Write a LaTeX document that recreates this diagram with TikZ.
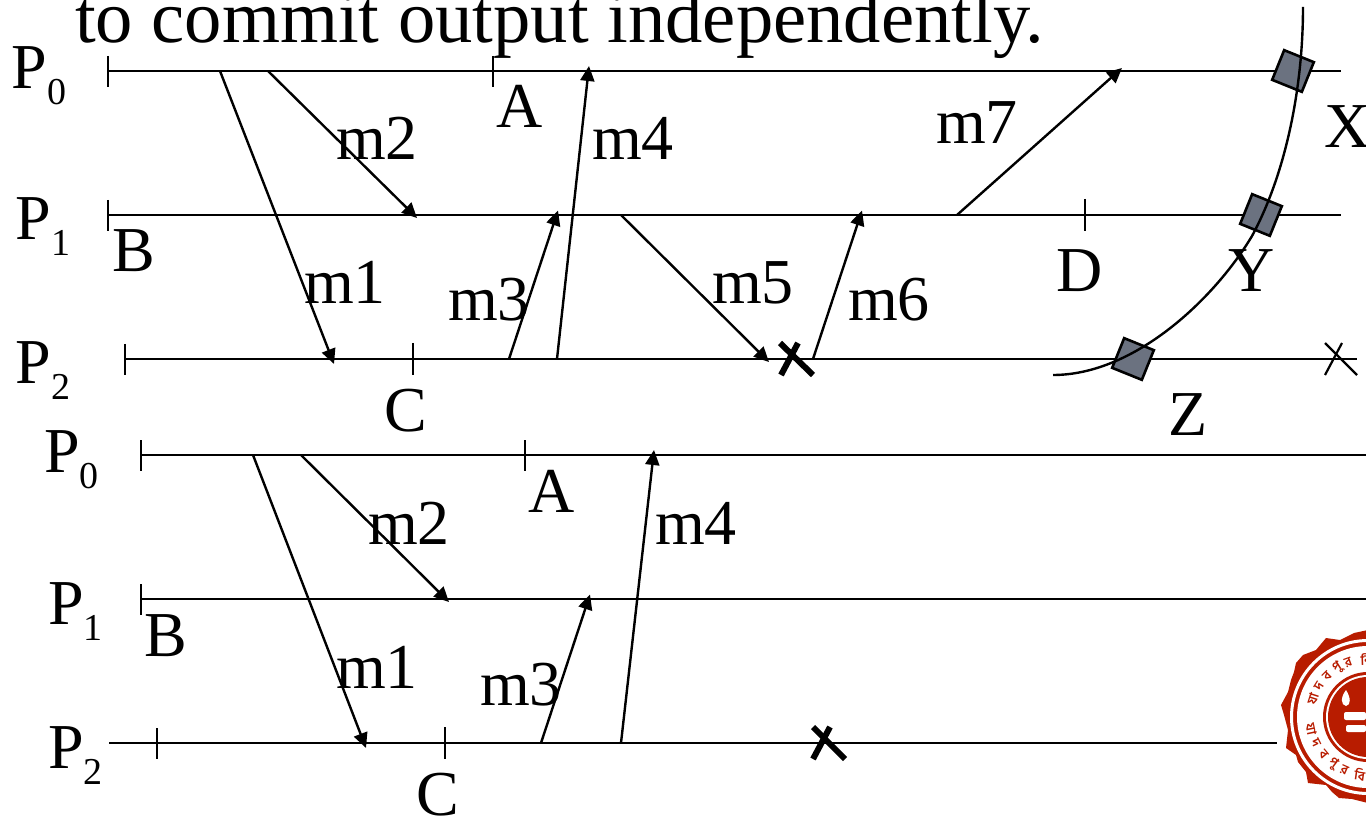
\documentclass[tikz,border=0pt]{standalone}
\usepackage{fontspec}
\setmainfont{Liberation Serif}
\newfontfamily\bengfont[Script=Bengali]{Hind Siliguri}
\usetikzlibrary{arrows.meta}
\definecolor{ckptfill}{HTML}{6B7280}
\definecolor{sealred}{HTML}{B81C00}
\newcommand{\psub}[1]{P\raisebox{-16pt}{\fontsize{38}{38}\selectfont #1}}
\tikzset{
  x=1pt,y=-1pt,
  lbl/.style={anchor=base west,inner sep=0pt,outer sep=0pt,font=\fontsize{64}{64}\selectfont,text=black},
  msg/.style={line width=2.4pt,-{Triangle[length=15pt,width=14pt]}},
  tl/.style={line width=2.8pt},
  tick/.style={line width=2.2pt},
  crash/.style={line width=6pt},
  thincrash/.style={line width=2.2pt},
  ckpt/.style={draw=black,fill=ckptfill,line width=2.6pt,minimum size=32pt,rotate=-22,inner sep=0pt},
  cut/.style={line width=2.4pt},
  sealtxt/.style={text=sealred,inner sep=0pt,font=\bengfont\bfseries\fontsize{13}{13}\selectfont}
}
\begin{document}
\begin{tikzpicture}
\useasboundingbox (0,0) rectangle (1366,818);
\clip (0,0) rectangle (1366,818);
% title
\node[lbl,font=\fontsize{74.6}{74.6}\selectfont] (title) at (75,43) {to commit output independently.};
% timelines top
\coordinate (a0s) at (108,71); \coordinate (a0e) at (1341,71);
\coordinate (a1s) at (108,215); \coordinate (a1e) at (1341,215);
\coordinate (a2s) at (125,359); \coordinate (a2e) at (1357,359);
\draw[tl] (a0s)--(a0e); \draw[tl] (a1s)--(a1e); \draw[tl] (a2s)--(a2e);
\coordinate (t1) at (108,56); \coordinate (t1b) at (108,87); \draw[tick] (t1)--(t1b);
\coordinate (t2) at (493,56); \coordinate (t2b) at (493,87); \draw[tick] (t2)--(t2b);
\coordinate (t3) at (108,200); \coordinate (t3b) at (108,231); \draw[tick] (t3)--(t3b);
\coordinate (t4) at (1085,199); \coordinate (t4b) at (1085,231); \draw[tick] (t4)--(t4b);
\coordinate (t5) at (125,344); \coordinate (t5b) at (125,375); \draw[tick] (t5)--(t5b);
\coordinate (t6) at (413,343); \coordinate (t6b) at (413,375); \draw[tick] (t6)--(t6b);
% messages top
\coordinate (m1s) at (220,71); \coordinate (m1e) at (334,364);
\coordinate (m2s) at (268,71); \coordinate (m2e) at (417,218);
\coordinate (m3s) at (509,359); \coordinate (m3e) at (558,210.5);
\coordinate (m4s) at (557,359); \coordinate (m4e) at (589,66);
\coordinate (m5s) at (621,215); \coordinate (m5e) at (769,362);
\coordinate (m6s) at (813,359); \coordinate (m6e) at (862,210.5);
\coordinate (m7s) at (957,215); \coordinate (m7e) at (1122,68);
\foreach \n in {1,...,7} \draw[msg] (m\n s)--(m\n e);
% crashes top
\coordinate (c1a) at (780,343); \coordinate (c1b) at (813,375);
\coordinate (c2a) at (798,343); \coordinate (c2b) at (781,375);
\draw[crash] (c1a)--(c1b); \draw[crash] (c2a)--(c2b);
\coordinate (c3a) at (1325,375); \coordinate (c3b) at (1342,343);
\coordinate (c4a) at (1325,343); \coordinate (c4b) at (1357,375);
\draw[thincrash] (c3a)--(c3b); \draw[thincrash] (c4a)--(c4b);
% checkpoints
\node[ckpt] (X) at (1293,71) {};
\node[ckpt] (Y) at (1261,215) {};
\node[ckpt] (Z) at (1133,359) {};
\coordinate (cs) at (1303,7); \coordinate (ce) at (1053,375);
\draw[cut] (cs) .. controls (1303,90) and (1285,175) .. (1252,236)
  .. controls (1215,298) and (1135,375) .. (ce);
% labels top
\node[lbl] (p0) at (12,88.5) {\psub{0}};
\node[lbl] (p1) at (16,240) {\psub{1}};
\node[lbl] (p2) at (16,384) {\psub{2}};
\node[lbl] (A) at (496,128) {A};
\node[lbl] (B) at (112,272) {B};
\node[lbl] (C) at (384,431) {C};
\node[lbl] (D) at (1056,292) {D};
\node[lbl] (X1) at (1324,148) {X};
\node[lbl] (Y1) at (1228,292) {Y};
\node[lbl] (Z1) at (1168,435) {Z};
\node[lbl] (lm1) at (304,304) {m1};
\node[lbl] (lm2) at (336,160) {m2};
\node[lbl] (lm3) at (448,321) {m3};
\node[lbl] (lm4) at (592,160) {m4};
\node[lbl] (lm5) at (712,304) {m5};
\node[lbl] (lm6) at (848,321) {m6};
\node[lbl] (lm7) at (936,144) {m7};
% timelines bottom
\coordinate (b0s) at (141,455); \coordinate (b0e) at (1366,455);
\coordinate (b1s) at (141,599); \coordinate (b1e) at (1366,599);
\coordinate (b2s) at (109,743); \coordinate (b2e) at (1277,743);
\draw[tl] (b0s)--(b0e); \draw[tl] (b1s)--(b1e); \draw[tl] (b2s)--(b2e);
\coordinate (u1) at (141,440); \coordinate (u1b) at (141,471); \draw[tick] (u1)--(u1b);
\coordinate (u2) at (525,440); \coordinate (u2b) at (525,471); \draw[tick] (u2)--(u2b);
\coordinate (u3) at (141,584); \coordinate (u3b) at (141,615); \draw[tick] (u3)--(u3b);
\coordinate (u5) at (157,728); \coordinate (u5b) at (157,759); \draw[tick] (u5)--(u5b);
\coordinate (u6) at (445,727); \coordinate (u6b) at (445,759); \draw[tick] (u6)--(u6b);
\coordinate (n1s) at (253,455); \coordinate (n1e) at (366,748);
\coordinate (n2s) at (301,455); \coordinate (n2e) at (449,602);
\coordinate (n3s) at (541,743); \coordinate (n3e) at (590,594.5);
\coordinate (n4s) at (621,743); \coordinate (n4e) at (654,450);
\foreach \n in {1,...,4} \draw[msg] (n\n s)--(n\n e);
\coordinate (d1a) at (813,727); \coordinate (d1b) at (845,759);
\coordinate (d2a) at (830,727); \coordinate (d2b) at (813,759);
\draw[crash] (d1a)--(d1b); \draw[crash] (d2a)--(d2b);
\node[lbl] (q0) at (44,472.5) {\psub{0}};
\node[lbl] (q1) at (48,624) {\psub{1}};
\node[lbl] (q2) at (48,768) {\psub{2}};
\node[lbl] (A2) at (528,512) {A};
\node[lbl] (B2) at (144,656) {B};
\node[lbl] (C2) at (416,815) {C};
\node[lbl] (ln1) at (336,688) {m1};
\node[lbl] (ln2) at (368,544) {m2};
\node[lbl] (ln3) at (480,705) {m3};
\node[lbl] (ln4) at (655,544) {m4};
% seal
\coordinate (sc) at (1368,717);
\fill[sealred,line join=round] (1368,630)--(1354,633)--(1340,640)--(1326,638)--(1316,650)--(1303,655)--(1296,663)--(1294,672)--(1291,680)--(1288,692)--(1281,705)--(1284,715)--(1288,730)--(1286,748)--(1296,755)--(1298,762)--(1306,772)--(1308,783)--(1326,785)--(1332,792)--(1339,798)--(1352,799)--(1368,803)--cycle;
\draw[white,line width=3pt] (sc) circle (76.5);
\fill[white] (sc) circle (71);
\fill[sealred] (sc) circle (45);
\fill[white] (sc) circle (42);
\fill[sealred] (sc) circle (40);
\fill[white] (1346,690) .. controls (1340,698) and (1341,705) .. (1346,706) .. controls (1351,705) and (1351,698) .. (1346,690) -- cycle;
\fill[white,rounded corners=2pt] (1344,712) rectangle (1366,720);
\fill[white,rounded corners=2pt] (1346,725) rectangle (1366,732);
\foreach \c/\a [count=\i] in {যা/162,দ/148,ব/135,পু/122,র/110,বি/92}
  \node[sealtxt,rotate=\a-90] (su\i) at ({1368+58*cos(\a)},{717-58*sin(\a)}) {\c};
\foreach \c/\a [count=\i] in {যা/192,দ/206,ব/220,পু/233,র/246,বি/262}
  \node[sealtxt,rotate=\a+90] (sl\i) at ({1368+58*cos(\a)},{717-58*sin(\a)}) {\c};
\end{tikzpicture}
\end{document}
